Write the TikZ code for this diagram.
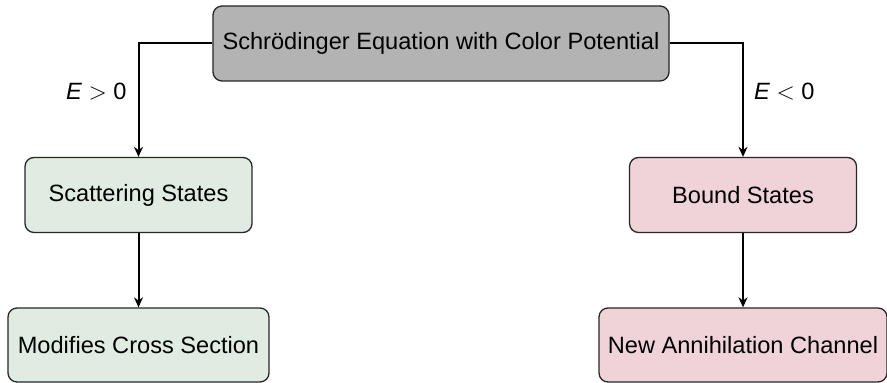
\documentclass[tikz,border=0pt]{standalone}
\usepackage{fontspec}
\setmainfont{Liberation Sans}
\usetikzlibrary{arrows.meta}
\definecolor{rootfill}{HTML}{B3B3B3}
\definecolor{scatfill}{HTML}{E0ECE2}
\definecolor{boundfill}{HTML}{EFD3D8}
\definecolor{edgeline}{HTML}{262626}
\tikzset{
  box/.style={draw=edgeline, line width=0.65pt, rounded corners=4.5pt,
    align=center, inner sep=0pt, font=\fontsize{11.8}{14}\selectfont},
  link/.style={line width=1pt, -{Stealth[length=5pt,width=4.5pt]}},
  cond/.style={font=\fontsize{11.8}{14}\selectfont, inner sep=0pt}
}
\begin{document}
\begin{tikzpicture}[x=0.5pt, y=-0.5pt]
  \useasboundingbox (0,0) rectangle (887,383);
  \node[box, fill=rootfill, minimum width=228pt, minimum height=37.5pt]
    (root) at (441,43.5) {Schrödinger Equation with Color Potential};
  \node[box, fill=scatfill, minimum width=113.5pt, minimum height=37.5pt]
    (scat) at (138.5,195) {Scattering States};
  \node[box, fill=boundfill, minimum width=113.5pt, minimum height=37.5pt]
    (bound) at (743,195) {Bound States};
  \node[box, fill=scatfill, minimum width=130.5pt, minimum height=37pt]
    (cross) at (138.5,345) {Modifies Cross Section};
  \node[box, fill=boundfill, minimum width=144pt, minimum height=37pt]
    (annih) at (743,345) {New Annihilation Channel};
  \draw[link] (root.west) -| node[cond, pos=0.71, left=5.5pt] {\textit{E} $>$ 0} (scat.north);
  \draw[link] (root.east) -| node[cond, pos=0.71, right=5pt] {\textit{E} $<$ 0} (bound.north);
  \draw[link] (scat.south) -- (cross.north);
  \draw[link] (bound.south) -- (annih.north);
\end{tikzpicture}
\end{document}
